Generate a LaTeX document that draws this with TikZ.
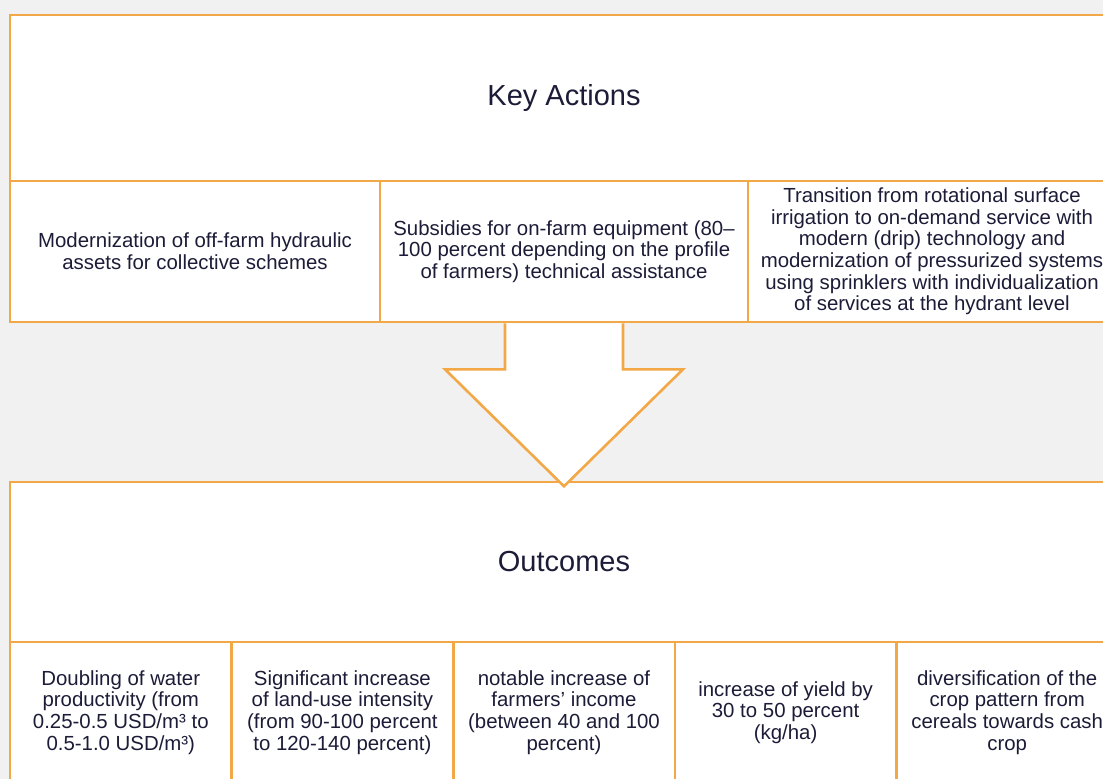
\documentclass[tikz,border=0pt]{standalone}
\usepackage{fontspec}
\setmainfont{Liberation Sans}
\usetikzlibrary{positioning}

\definecolor{frame}{RGB}{243,168,72}
\definecolor{ink}{RGB}{28,28,56}
\definecolor{paper}{RGB}{241,241,241}

\begin{document}
\begin{tikzpicture}[
  x=1pt, y=-1pt,
  box/.style={draw=frame, line width=2.6pt, fill=white, inner sep=0pt, outer sep=0pt, align=center, text=ink},
  head/.style={box, minimum width=1108pt, font=\fontsize{29}{33}\selectfont},
  cell/.style={box, minimum height=141pt, font=\fontsize{20.4}{21.6}\selectfont}
]
  \clip (0,0) rectangle (1103,779);
  \fill[paper] (0,0) rectangle (1103,779);

  % key actions
  \node[head, minimum height=166pt, anchor=north west] (actions) at (10,15) {Key Actions};
  \node[cell, minimum width=370pt, below right=0pt and 0pt of actions.south west] (act1)
    {Modernization of off-farm hydraulic\\assets for collective schemes};
  \node[cell, minimum width=368pt, right=0pt of act1] (act2)
    {Subsidies for on-farm equipment (80–\\100 percent depending on the profile\\of farmers) technical assistance};
  \node[cell, minimum width=368pt, right=0pt of act2] (act3)
    {Transition from rotational surface\\irrigation to on-demand service with\\modern (drip) technology and\\modernization of pressurized systems\\using sprinklers with individualization\\of services at the hydrant level};

  % outcomes
  \node[head, minimum height=160pt, anchor=north west] (outcomes) at (10,482) {Outcomes};
  \node[cell, minimum width=221.6pt, below right=0pt and 0pt of outcomes.south west] (out1)
    {Doubling of water\\productivity (from\\0.25-0.5 USD/m³ to\\0.5-1.0 USD/m³)};
  \node[cell, minimum width=221.6pt, right=0pt of out1] (out2)
    {Significant increase\\of land-use intensity\\(from 90-100 percent\\to 120-140 percent)};
  \node[cell, minimum width=221.6pt, right=0pt of out2] (out3)
    {notable increase of\\farmers’ income\\(between 40 and 100\\percent)};
  \node[cell, minimum width=221.6pt, right=0pt of out3] (out4)
    {increase of yield by\\30 to 50 percent\\(kg/ha)};
  \node[cell, minimum width=221.6pt, right=0pt of out4] (out5)
    {diversification of the\\crop pattern from\\cereals towards cash\\crop};

  % block arrow hanging from the middle action
  \draw[frame, line width=2.6pt, fill=white, line join=miter]
    (act2.south) ++(-59,1.3) -- ++(0,46) -- ++(-60,0) -- ++(119,117)
    -- ++(119,-117) -- ++(-60,0) -- ++(0,-46);
\end{tikzpicture}
\end{document}
